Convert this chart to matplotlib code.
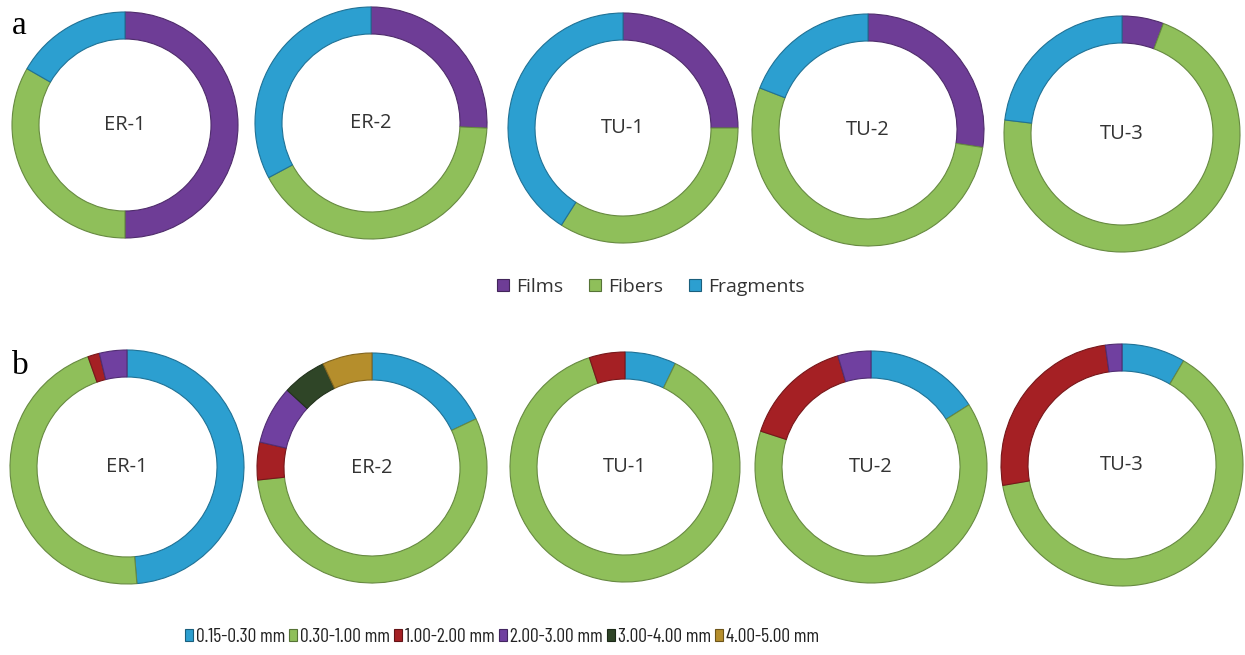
import matplotlib
matplotlib.use('Agg')
import matplotlib.pyplot as plt
from matplotlib.patches import Patch
from matplotlib.colors import to_rgb

# ---------------- data ----------------
sites = ['ER-1', 'ER-2', 'TU-1', 'TU-2', 'TU-3']

shape_labels = ['Films', 'Fibers', 'Fragments']
films = [50.0, 25.7, 25.0, 27.4, 5.7]
fibers = [33.3, 41.5, 34.0, 53.5, 71.2]
fragments = [16.7, 32.8, 41.0, 19.1, 23.1]

size_labels = ['0.15-0.30 mm', '0.30-1.00 mm', '1.00-2.00 mm',
               '2.00-3.00 mm', '3.00-4.00 mm', '4.00-5.00 mm']
s015_030 = [48.6, 18.0, 7.2, 16.0, 8.5]
s030_100 = [45.9, 55.4, 87.7, 64.0, 63.8]
s100_200 = [1.6, 5.3, 5.0, 15.4, 25.5]
s200_300 = [3.8, 8.2, 0.0, 4.6, 2.2]
s300_400 = [0.0, 6.2, 0.0, 0.0, 0.0]
s400_500 = [0.0, 7.0, 0.0, 0.0, 0.0]

# ---------------- style ----------------
shape_colors = ['#6E3D96', '#8FBF5A', '#2C9FD0']
size_colors = ['#2C9FD0', '#8FBF5A', '#A52024', '#7040A0', '#2F4527', '#B58E2C']

def darker(c, f=0.7):
    r, g, b = to_rgb(c)
    return (r * f, g * f, b * f)

W, H = 1245, 655
fig = plt.figure(figsize=(W / 100, H / 100), dpi=100)
fig.patch.set_facecolor('white')

HALF = 130  # half size of each donut axes (px)
RING = 27   # ring thickness (px)

geo_a = [(125, 125, 113), (371, 123, 116), (623, 128, 115), (868, 130, 116), (1122, 134, 118)]
geo_b = [(127, 467, 117), (372, 468, 115), (625, 467, 115), (871, 467, 116), (1122, 465, 121)]

label_font = 'Open Sans'

def donut(cx, cy, R, values, colors, name):
    ax = fig.add_axes([(cx - HALF) / W, 1 - (cy + HALF) / H, 2 * HALF / W, 2 * HALF / H])
    vals = [v for v in values if v > 0]
    cols = [c for v, c in zip(values, colors) if v > 0]
    wedges, _ = ax.pie(vals, colors=cols, startangle=90, counterclock=False,
                       radius=R / HALF,
                       wedgeprops=dict(width=RING / HALF, linewidth=0.8))
    for w, c in zip(wedges, cols):
        w.set_edgecolor(darker(c, 0.72))
    ax.set_xlim(-1, 1)
    ax.set_ylim(-1, 1)
    ax.set_aspect('equal')
    ax.axis('off')
    ax.text(0, 0, name, ha='center', va='center', fontsize=14.5,
            family=label_font, color='#333333')
    return ax

for i, s in enumerate(sites):
    cx, cy, R = geo_a[i]
    donut(cx, cy, R, [films[i], fibers[i], fragments[i]], shape_colors, s)

size_series = [s015_030, s030_100, s100_200, s200_300, s300_400, s400_500]
for i, s in enumerate(sites):
    cx, cy, R = geo_b[i]
    donut(cx, cy, R, [ser[i] for ser in size_series], size_colors, s)

# panel letters
fig.text(12 / W, 1 - 34 / H, 'a', fontsize=24, family='Liberation Serif', color='black')
fig.text(12 / W, 1 - 374 / H, 'b', fontsize=24, family='Liberation Serif', color='black')

# legend a
handles_a = [Patch(facecolor=c, edgecolor=darker(c, 0.6), linewidth=0.8) for c in shape_colors]
fs_a = 14
px_a = fs_a * 100 / 72
fig.legend(handles_a, shape_labels, loc='center', bbox_to_anchor=(651 / W, 1 - 287 / H),
           ncol=3, frameon=False, prop=dict(family='Open Sans', size=fs_a),
           handlelength=12 / px_a, handleheight=12 / px_a, handletextpad=7 / px_a,
           columnspacing=26 / px_a, borderaxespad=0, borderpad=0, labelcolor='#333333')

# legend b
handles_b = [Patch(facecolor=c, edgecolor=darker(c, 0.6), linewidth=0.8) for c in size_colors]
fs_b = 14
px_b = fs_b * 100 / 72
fig.legend(handles_b, size_labels, loc='center', bbox_to_anchor=(502 / W, 1 - 637 / H),
           ncol=6, frameon=False, prop=dict(family='Barlow Condensed', size=fs_b),
           handlelength=8 / px_b, handleheight=12 / px_b, handletextpad=3 / px_b,
           columnspacing=4 / px_b, borderaxespad=0, borderpad=0, labelcolor='#222222')

fig.savefig('out.png', dpi=100, facecolor='white')
